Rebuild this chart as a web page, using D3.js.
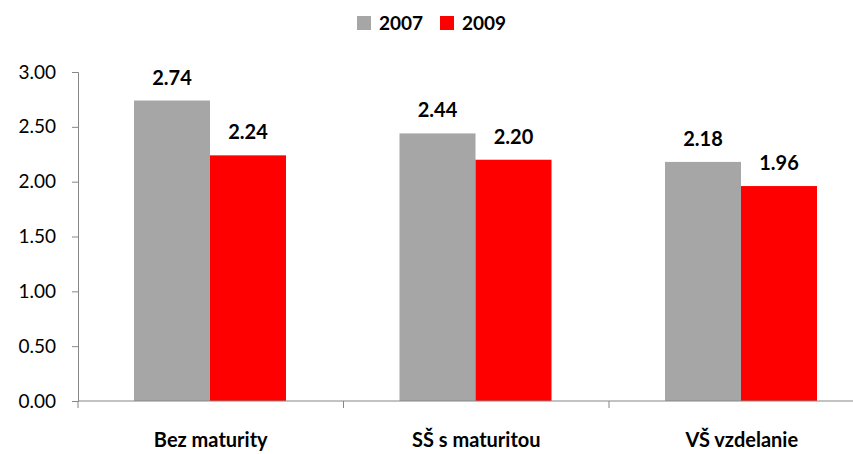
<!DOCTYPE html>
<html>
<head>
  <meta charset="utf-8">
  <script src="https://d3js.org/d3.v7.min.js"></script>
  <style>
    body { margin: 0; background: #fff; }
    text { font-family: Lato, "Open Sans", sans-serif; fill: #000; }
  </style>
</head>
<body>
  <svg id="chart" width="853" height="454"></svg>
  <script>
    // Data
    var categories = ["Bez maturity", "SŠ s maturitou", "VŠ vzdelanie"];
    var seriesNames = ["2007", "2009"];
    var values2007 = [2.74, 2.44, 2.18];
    var values2009 = [2.24, 2.20, 1.96];
    var yTicks = [0, 0.5, 1, 1.5, 2, 2.5, 3];
    var colors = ["#a6a6a6", "#ff0000"];

    var data = categories.map(function(c, i) {
      return { cat: c, vals: [values2007[i], values2009[i]] };
    });

    var svg = d3.select("#chart");

    // Scales
    var x0 = d3.scaleBand()
      .domain(categories)
      .range([78, 874.5])
      .padding(0);

    var x1 = d3.scaleBand()
      .domain(seriesNames)
      .range([56, 208])
      .padding(0);

    var y = d3.scaleLinear()
      .domain([0, 3])
      .range([401, 72]);

    // Bars
    var groups = svg.selectAll("g.group")
      .data(data)
      .enter()
      .append("g")
      .attr("class", "group")
      .attr("transform", function(d) { return "translate(" + x0(d.cat) + ",0)"; });

    groups.selectAll("rect")
      .data(function(d) { return d.vals.map(function(v, i) { return { s: seriesNames[i], v: v, i: i }; }); })
      .enter()
      .append("rect")
      .attr("x", function(d) { return x1(d.s); })
      .attr("y", function(d) { return y(d.v); })
      .attr("width", x1.bandwidth())
      .attr("height", function(d) { return y(0) - y(d.v); })
      .attr("fill", function(d) { return colors[d.i]; });

    // Value labels
    groups.selectAll("text.val")
      .data(function(d) { return d.vals.map(function(v, i) { return { s: seriesNames[i], v: v }; }); })
      .enter()
      .append("text")
      .attr("class", "val")
      .attr("x", function(d) { return x1(d.s) + x1.bandwidth() / 2; })
      .attr("y", function(d) { return y(d.v) - 16; })
      .attr("text-anchor", "middle")
      .attr("font-size", "20px")
      .attr("font-weight", "bold")
      .text(function(d) { return d3.format(".2f")(d.v); });

    // Y axis
    var yAxis = svg.append("g")
      .attr("transform", "translate(78,0)")
      .call(d3.axisLeft(y).tickValues(yTicks).tickFormat(d3.format(".2f")).tickSize(6).tickPadding(16));
    yAxis.select(".domain").attr("stroke", "#868686");
    yAxis.selectAll(".tick line").attr("stroke", "#868686");
    yAxis.selectAll(".tick text")
      .attr("font-size", "19px")
      .attr("font-family", "Lato, 'Open Sans', sans-serif")
      .attr("fill", "#000");

    // X axis
    var xAxis = svg.append("g")
      .attr("transform", "translate(0,401)");
    xAxis.append("line")
      .attr("x1", 78).attr("x2", 874.5)
      .attr("stroke", "#868686");
    xAxis.selectAll("line.tick")
      .data(categories.concat(["end"]))
      .enter()
      .append("line")
      .attr("class", "tick")
      .attr("x1", function(d, i) { return 78 + i * x0.bandwidth(); })
      .attr("x2", function(d, i) { return 78 + i * x0.bandwidth(); })
      .attr("y1", 0).attr("y2", 7)
      .attr("stroke", "#868686");
    xAxis.selectAll("text")
      .data(categories)
      .enter()
      .append("text")
      .attr("x", function(d) { return x0(d) + x0.bandwidth() / 2; })
      .attr("y", 46)
      .attr("text-anchor", "middle")
      .attr("font-size", "20px")
      .attr("font-weight", "bold")
      .text(function(d) { return d; });

    // Legend
    var legendX = [357, 440];
    var legend = svg.selectAll("g.legend")
      .data(seriesNames)
      .enter()
      .append("g")
      .attr("class", "legend")
      .attr("transform", function(d, i) { return "translate(" + legendX[i] + ",16)"; });
    legend.append("rect")
      .attr("width", 14).attr("height", 14)
      .attr("fill", function(d, i) { return colors[i]; });
    legend.append("text")
      .attr("x", 22)
      .attr("y", 14)
      .attr("font-size", "19px")
      .attr("font-weight", "bold")
      .text(function(d) { return d; });
  </script>
</body>
</html>
